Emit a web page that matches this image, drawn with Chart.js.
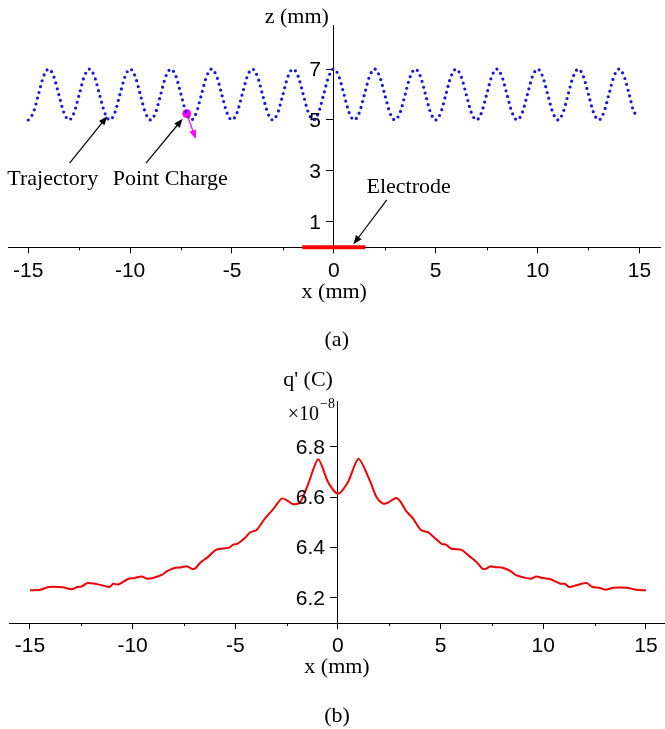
<!DOCTYPE html>
<html>
<head>
<meta charset="utf-8">
<script src="https://cdn.jsdelivr.net/npm/chart.js@4.4.0/dist/chart.umd.min.js"></script>
<style>
  html, body { margin: 0; padding: 0; background: #fff; }
  #wrap { width: 665px; height: 729px; position: relative; }
  .box { position: absolute; left: 0; width: 665px; }
</style>
</head>
<body>
<div id="wrap">
  <div class="box" style="top:0;height:353px"><canvas id="trajChart"></canvas></div>
  <div class="box" style="top:353px;height:376px"><canvas id="chargeChart"></canvas></div>
</div>
<script>
// (a) path of the point charge over the electrode, x and z in mm
const trajX = [
  -15, -14.75, -14.5, -14.25, -14, -13.75, -13.5, -13.25,
  -13, -12.75, -12.5, -12.25, -12, -11.75, -11.5, -11.25,
  -11, -10.75, -10.5, -10.25, -10, -9.75, -9.5, -9.25,
  -9, -8.75, -8.5, -8.25, -8, -7.75, -7.5, -7.25,
  -7, -6.75, -6.5, -6.25, -6, -5.75, -5.5, -5.25,
  -5, -4.75, -4.5, -4.25, -4, -3.75, -3.5, -3.25,
  -3, -2.75, -2.5, -2.25, -2, -1.75, -1.5, -1.25,
  -1, -0.75, -0.5, -0.25, 0, 0.25, 0.5, 0.75,
  1, 1.25, 1.5, 1.75, 2, 2.25, 2.5, 2.75,
  3, 3.25, 3.5, 3.75, 4, 4.25, 4.5, 4.75,
  5, 5.25, 5.5, 5.75, 6, 6.25, 6.5, 6.75,
  7, 7.25, 7.5, 7.75, 8, 8.25, 8.5, 8.75,
  9, 9.25, 9.5, 9.75, 10, 10.25, 10.5, 10.75,
  11, 11.25, 11.5, 11.75, 12, 12.25, 12.5, 12.75,
  13, 13.25, 13.5, 13.75, 14, 14.25, 14.5, 14.75,
  15
];
const trajZ = [
  5, 5.29, 6, 6.71, 7, 6.71, 6, 5.29,
  5, 5.29, 6, 6.71, 7, 6.71, 6, 5.29,
  5, 5.29, 6, 6.71, 7, 6.71, 6, 5.29,
  5, 5.29, 6, 6.71, 7, 6.71, 6, 5.29,
  5, 5.29, 6, 6.71, 7, 6.71, 6, 5.29,
  5, 5.29, 6, 6.71, 7, 6.71, 6, 5.29,
  5, 5.29, 6, 6.71, 7, 6.71, 6, 5.29,
  5, 5.29, 6, 6.71, 7, 6.71, 6, 5.29,
  5, 5.29, 6, 6.71, 7, 6.71, 6, 5.29,
  5, 5.29, 6, 6.71, 7, 6.71, 6, 5.29,
  5, 5.29, 6, 6.71, 7, 6.71, 6, 5.29,
  5, 5.29, 6, 6.71, 7, 6.71, 6, 5.29,
  5, 5.29, 6, 6.71, 7, 6.71, 6, 5.29,
  5, 5.29, 6, 6.71, 7, 6.71, 6, 5.29,
  5, 5.29, 6, 6.71, 7, 6.71, 6, 5.29,
  5.2
];
const chargeX = [-7.22];
const chargeZ = [5.25];
const electrodeX = [-1.55, 1.55];
const electrodeZ = [0, 0];
const zTicks = [1, 3, 5, 7];

const xTicks = [-15, -10, -5, 0, 5, 10, 15];
const xMinorTicks = [-12.5, -7.5, -2.5, 2.5, 7.5, 12.5];

// (b) charge induced on the electrode, q' in units of 1e-8 C
const qX = [
  -15, -14.5, -14.1, -13.4, -12.97, -12.7, -12.48, -12.2, -11.83, -11.5,
  -11.13, -10.94, -10.7, -10.2, -9.96, -9.56, -9.29, -8.97, -8.56, -8.32,
  -8, -7.61, -7.37, -7.12, -6.94, -6.72, -6.31, -5.94, -5.58, -5.26,
  -5.1, -4.9, -4.53, -4.28, -3.96, -3.55, -3.15, -2.74, -2.5, -2.2,
  -1.85, -1.45, -0.96, -0.47, 0, 0.5, 1, 1.56, 1.88, 2.2,
  2.45, 2.82, 3.02, 3.31, 3.67, 4.04, 4.4, 4.72, 5.05, 5.26,
  5.53, 6.02, 6.43, 6.75, 7.04, 7.24, 7.43, 7.69, 8.02, 8.41,
  8.7, 9.02, 9.38, 9.67, 9.92, 10.32, 10.84, 11.05, 11.26, 11.62,
  12.11, 12.4, 12.72, 13.05, 13.4, 14.06, 14.54, 15
];
const qVal = [
  6.230, 6.232, 6.243, 6.242, 6.234, 6.243, 6.245, 6.259, 6.256, 6.250,
  6.243, 6.256, 6.253, 6.276, 6.278, 6.285, 6.276, 6.280, 6.292, 6.306,
  6.318, 6.322, 6.326, 6.316, 6.317, 6.339, 6.364, 6.391, 6.396, 6.401,
  6.412, 6.415, 6.438, 6.460, 6.470, 6.516, 6.553, 6.595, 6.589, 6.573,
  6.579, 6.652, 6.751, 6.659, 6.614, 6.662, 6.753, 6.665, 6.600, 6.575,
  6.579, 6.597, 6.586, 6.547, 6.514, 6.470, 6.460, 6.438, 6.415, 6.412,
  6.395, 6.391, 6.364, 6.342, 6.316, 6.317, 6.326, 6.322, 6.320, 6.306,
  6.289, 6.282, 6.276, 6.285, 6.280, 6.275, 6.256, 6.256, 6.243, 6.250,
  6.259, 6.243, 6.240, 6.232, 6.240, 6.240, 6.232, 6.230
];
const qTicks = [6.2, 6.4, 6.6, 6.8];

const SANS = '"Liberation Sans", Arial, sans-serif';
const SERIF = '"Liberation Serif", "Times New Roman", serif';
Chart.defaults.font.family = SANS;
Chart.defaults.color = '#000';
Chart.defaults.animation = false;

const pts = (xs, ys) => xs.map((v, i) => ({ x: v, y: ys[i] }));

function arrow(ctx, x1, y1, x2, y2, color) {
  const a = Math.atan2(y2 - y1, x2 - x1);
  const len = 9, half = 3.5;
  ctx.strokeStyle = color;
  ctx.fillStyle = color;
  ctx.lineWidth = 1.2;
  ctx.beginPath();
  ctx.moveTo(x1, y1);
  ctx.lineTo(x2 - Math.cos(a) * len * 0.8, y2 - Math.sin(a) * len * 0.8);
  ctx.stroke();
  ctx.beginPath();
  ctx.moveTo(x2, y2);
  ctx.lineTo(x2 - Math.cos(a) * len - Math.sin(a) * half, y2 - Math.sin(a) * len + Math.cos(a) * half);
  ctx.lineTo(x2 - Math.cos(a) * len + Math.sin(a) * half, y2 - Math.sin(a) * len - Math.cos(a) * half);
  ctx.closePath();
  ctx.fill();
}

// short minor ticks under the x axis, and the y labels left of the centred axis
function axisExtras(chart) {
  const { ctx, chartArea, scales: { x, y } } = chart;
  const y0 = chartArea.bottom;
  ctx.strokeStyle = '#000';
  ctx.lineWidth = 1;
  xMinorTicks.forEach(v => {
    const p = Math.round(x.getPixelForValue(v)) + 0.5;
    ctx.beginPath();
    ctx.moveTo(p, y0);
    ctx.lineTo(p, y0 + 3);
    ctx.stroke();
  });
  const ax = x.getPixelForValue(0);
  ctx.font = '21px ' + SANS;
  ctx.fillStyle = '#000';
  ctx.textAlign = 'right';
  ctx.textBaseline = 'middle';
  y.ticks.forEach(t => {
    ctx.fillText(String(t.value), ax - 13, y.getPixelForValue(t.value) + 1);
  });
}

function xScale(min, max) {
  return {
    type: 'linear',
    position: 'bottom',
    min: min,
    max: max,
    afterBuildTicks: s => { s.ticks = xTicks.map(v => ({ value: v })); },
    ticks: { font: { size: 21 }, padding: 5, maxRotation: 0, autoSkip: false, color: '#000' },
    grid: { drawOnChartArea: false, tickLength: 6, color: '#000', tickColor: '#000' },
    border: { color: '#000', width: 1 },
    title: { display: true, text: 'x (mm)', color: '#000', padding: { top: -7.5, bottom: 0 },
             font: { family: SERIF, size: 22, lineHeight: 1 } }
  };
}

function yScale(min, max, ticks) {
  return {
    type: 'linear',
    position: { x: 0 },
    min: min,
    max: max,
    afterBuildTicks: s => { s.ticks = ticks.map(v => ({ value: v })); },
    ticks: { display: false },
    grid: { drawOnChartArea: false, tickLength: 7, color: '#000', tickColor: '#000' },
    border: { color: '#000', width: 1 }
  };
}

function caption(text, padTop) {
  return { display: true, text: text, position: 'bottom', color: '#000',
           font: { family: SERIF, size: 22, weight: 'normal' },
           padding: { top: padTop, bottom: 0 } };
}

const trajNotes = {
  id: 'trajNotes',
  afterDraw(chart) {
    const { ctx, scales: { x, y } } = chart;
    const px = v => x.getPixelForValue(v);
    const py = v => y.getPixelForValue(v);
    ctx.save();
    axisExtras(chart);
    ctx.font = '22px ' + SERIF;
    ctx.fillStyle = '#000';
    ctx.textBaseline = 'alphabetic';
    ctx.textAlign = 'right';
    ctx.fillText('z (mm)', px(0) - 5, 23);
    ctx.textAlign = 'center';
    ctx.fillText('Trajectory', px(-13.8), py(2.45));
    ctx.fillText('Point Charge', px(-8.03), py(2.45));
    ctx.fillText('Electrode', px(3.67), py(2.15));
    arrow(ctx, px(-12.97), py(3.31), px(-11.12), py(5.15), '#000');
    arrow(ctx, px(-9.22), py(3.31), px(-7.42), py(5.05), '#000');
    arrow(ctx, px(2.6), py(1.86), px(0.96), py(0.12), '#000');
    // direction of motion of the charge
    arrow(ctx, px(chargeX[0]), py(chargeZ[0]), px(-6.78), py(4.25), '#ff00ff');
    ctx.restore();
  }
};

new Chart(document.getElementById('trajChart'), {
  type: 'line',
  data: {
    datasets: [
      {
        data: pts(trajX, trajZ),
        borderColor: '#1414e6',
        borderWidth: 3.2,
        borderDash: [0, 6],
        borderCapStyle: 'round',
        cubicInterpolationMode: 'monotone',
        pointRadius: 0
      },
      {
        data: pts(electrodeX, electrodeZ),
        borderColor: '#ff0000',
        borderWidth: 4,
        pointRadius: 0,
        clip: false
      },
      {
        data: pts(chargeX, chargeZ),
        showLine: false,
        pointRadius: 4,
        pointBackgroundColor: '#ff00ff',
        pointBorderColor: '#ff00ff'
      }
    ]
  },
  options: {
    responsive: true,
    maintainAspectRatio: false,
    devicePixelRatio: 1,
    layout: { padding: { left: 8.5, right: 0, top: 25, bottom: 0 } },
    scales: {
      x: xScale(-15.97, 16.01),
      y: yScale(0, 8.73, zTicks)
    },
    plugins: {
      legend: { display: false },
      tooltip: { enabled: false },
      title: caption('(a)', 23.6)
    }
  },
  plugins: [trajNotes]
});

const chargeNotes = {
  id: 'chargeNotes',
  afterDraw(chart) {
    const { ctx, scales: { x }, chartArea } = chart;
    const ax = x.getPixelForValue(0);
    ctx.save();
    axisExtras(chart);
    ctx.fillStyle = '#000';
    ctx.textBaseline = 'alphabetic';
    ctx.textAlign = 'right';
    ctx.font = '22px ' + SERIF;
    ctx.fillText("q' (C)", ax - 5, chartArea.top - 16);
    ctx.font = '14px ' + SERIF;
    ctx.fillText('\u22128', ax - 3, chartArea.top + 6);
    const w = ctx.measureText('\u22128').width;
    ctx.font = '20px ' + SERIF;
    ctx.fillText('\u00d710', ax - 4 - w, chartArea.top + 18);
    ctx.restore();
  }
};

new Chart(document.getElementById('chargeChart'), {
  type: 'line',
  data: {
    datasets: [{
      data: pts(qX, qVal),
      borderColor: '#f00000',
      borderWidth: 2,
      tension: 0.25,
      pointRadius: 0
    }]
  },
  options: {
    responsive: true,
    maintainAspectRatio: false,
    devicePixelRatio: 1,
    layout: { padding: { left: 9, right: 0, top: 48.7, bottom: 0 } },
    scales: {
      x: xScale(-16.02, 15.93),
      y: yScale(6.1, 6.98, qTicks)
    },
    plugins: {
      legend: { display: false },
      tooltip: { enabled: false },
      title: caption('(b)', 23.9)
    }
  },
  plugins: [chargeNotes]
});
</script>
</body>
</html>
